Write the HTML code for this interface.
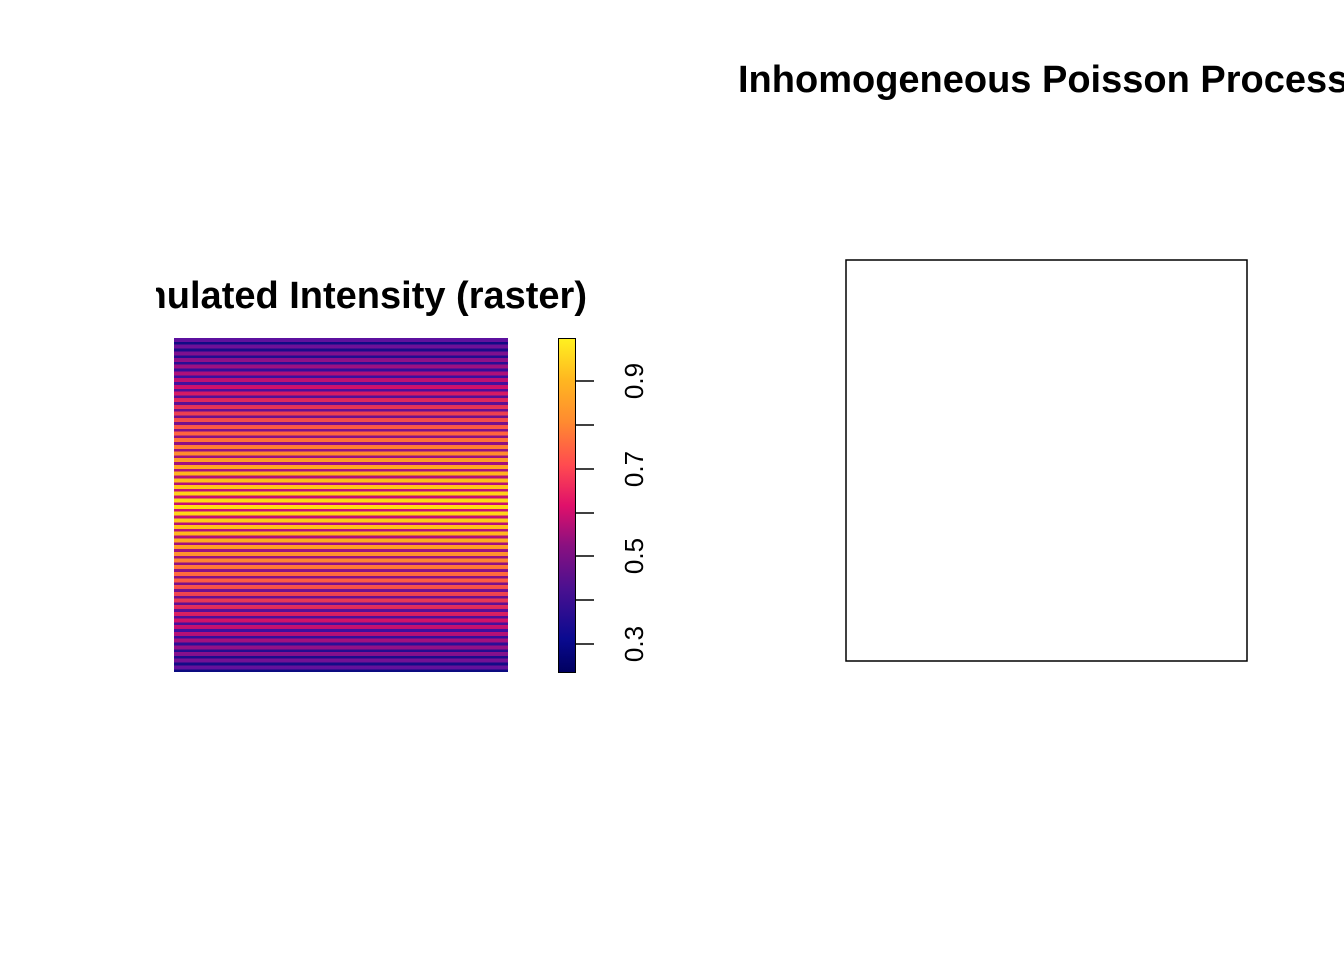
<!DOCTYPE html>
<html><head><style>
body{margin:0;width:1344px;height:960px;background:#fff;position:relative;overflow:hidden;font-family:"Liberation Sans",sans-serif}
.a{position:absolute}
.t{font-weight:bold;font-size:38px;white-space:nowrap;line-height:1}
</style></head><body>
<div class="a" style="left:156px;top:276px;width:440px;height:46px;overflow:hidden">
<div class="a t" style="right:9px;top:1px">Simulated Intensity (raster)</div></div>
<div class="a t" style="left:738px;top:61px">Inhomogeneous Poisson Process</div>
<div class="a" style="left:174px;top:338px;width:334px;height:334px;background:linear-gradient(#0a0a80 0%,#3a10a0 12%,#8a1085 30%,#c81070 50%,#8a1085 70%,#3a10a0 88%,#0a0a80 100%)"></div>
<div class="a" style="left:174px;top:338px;width:334px;height:334px;background:linear-gradient(#5a10a0 0%,#d0106a 15%,#ff6040 28%,#ffb020 40%,#ffe018 50%,#ffb020 60%,#ff6040 72%,#d0106a 85%,#5a10a0 100%);-webkit-mask-image:repeating-linear-gradient(#000 0,#000 4px,transparent 4px,transparent 6.68px);mask-image:repeating-linear-gradient(#000 0,#000 4px,transparent 4px,transparent 6.68px)"></div>
<div class="a" style="left:558px;top:338px;width:16px;height:333px;border:1px solid #000;background:linear-gradient(to top,#000060 0%,#0a0a90 10%,#4a1090 25%,#8a1080 38%,#e0106a 50%,#ff4a50 62%,#ff8a30 75%,#ffb820 88%,#fff020 100%)"></div>
<svg class="a" style="left:0;top:0" width="1344" height="960">
<g stroke="#000" stroke-width="1.5">
<line x1="575" y1="381" x2="594" y2="381"/><line x1="575" y1="425" x2="594" y2="425"/>
<line x1="575" y1="469" x2="594" y2="469"/><line x1="575" y1="513" x2="594" y2="513"/>
<line x1="575" y1="556" x2="594" y2="556"/><line x1="575" y1="600" x2="594" y2="600"/>
<line x1="575" y1="644" x2="594" y2="644"/></g>
<g font-family="Liberation Sans" font-size="26" text-anchor="middle">
<text transform="translate(643,381) rotate(-90)">0.9</text>
<text transform="translate(643,469) rotate(-90)">0.7</text>
<text transform="translate(643,556) rotate(-90)">0.5</text>
<text transform="translate(643,644) rotate(-90)">0.3</text></g>
<rect x="846" y="260" width="401" height="401" fill="none" stroke="#000" stroke-width="1.5"/>
</svg>
</body></html>
